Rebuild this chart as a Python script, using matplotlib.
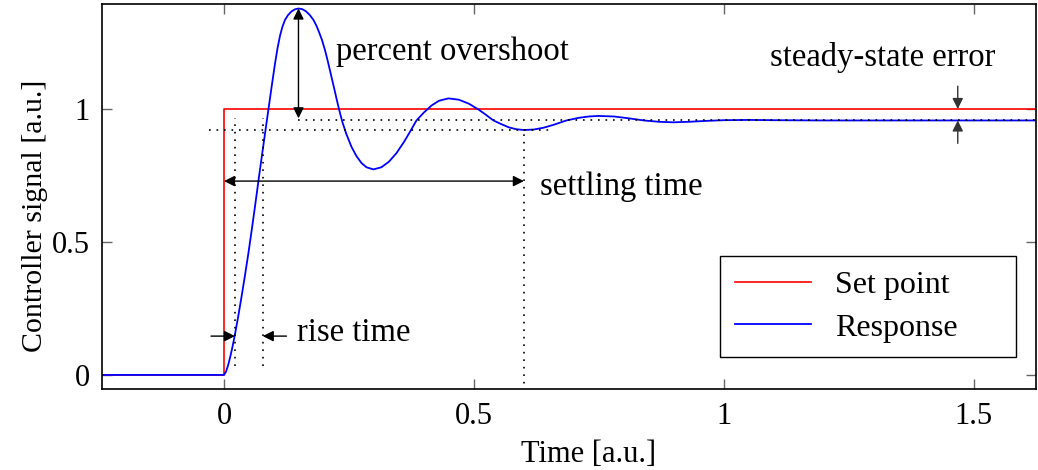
import numpy as np
import matplotlib
matplotlib.use("Agg")
import matplotlib.pyplot as plt

# values
time = [-0.25, 0.0, 0.004, 0.008, 0.012, 0.016, 0.021, 0.028, 0.035, 0.042,
        0.049, 0.056, 0.063, 0.070, 0.077, 0.083, 0.089, 0.095, 0.102, 0.107,
        0.112, 0.117, 0.122, 0.128, 0.135, 0.142, 0.149, 0.156, 0.163, 0.171,
        0.179, 0.185, 0.190, 0.196, 0.202, 0.207, 0.212, 0.217, 0.222, 0.226,
        0.230, 0.237, 0.245, 0.255, 0.265, 0.275, 0.285, 0.299, 0.315, 0.330,
        0.345, 0.360, 0.372, 0.385, 0.400, 0.415, 0.430, 0.449, 0.470, 0.490,
        0.510, 0.525, 0.539, 0.555, 0.570, 0.585, 0.600, 0.620, 0.640, 0.660,
        0.685, 0.710, 0.730, 0.749, 0.780, 0.810, 0.840, 0.870, 0.899, 0.930,
        0.960, 1.000, 1.050, 1.100, 1.200, 1.650]
response = [0.0, 0.0, 0.012, 0.035, 0.064, 0.097, 0.143, 0.215, 0.293, 0.375,
            0.460, 0.552, 0.647, 0.745, 0.840, 0.920, 1.000, 1.080, 1.170, 1.228,
            1.275, 1.310, 1.335, 1.353, 1.367, 1.375, 1.378, 1.376, 1.369, 1.355,
            1.335, 1.313, 1.290, 1.260, 1.222, 1.185, 1.145, 1.105, 1.065, 1.032,
            1.000, 0.950, 0.905, 0.858, 0.823, 0.797, 0.781, 0.773, 0.781, 0.802,
            0.834, 0.876, 0.914, 0.957, 0.987, 1.013, 1.031, 1.040, 1.035, 1.020,
            0.997, 0.977, 0.957, 0.943, 0.931, 0.924, 0.921, 0.923, 0.930, 0.941,
            0.957, 0.967, 0.972, 0.974, 0.972, 0.965, 0.957, 0.952, 0.950, 0.952,
            0.955, 0.958, 0.959, 0.958, 0.957, 0.957]
setpoint_time = [-0.25, 0.0, 0.0, 1.65]
setpoint = [0.0, 0.0, 1.0, 1.0]

# annotation values
peak_time = 0.149
peak_value = 1.378
steady_value = 0.957
band_value = 0.921
rise_start = 0.022
rise_end = 0.0775
settle_time = 0.6
error_time = 1.468

plt.rcParams["font.family"] = ["Liberation Serif", "DejaVu Serif"]
plt.rcParams["font.size"] = 22

fig = plt.figure(figsize=(10.38, 4.70), dpi=100)
ax = fig.add_axes([0.0983, 0.1723, 0.9, 0.8192])

ax.plot(setpoint_time, setpoint, color="#ff0000", lw=1.2, label="Set point")
ax.plot(time, response, color="#0000ff", lw=1.3, label="Response")

dot = dict(color="black", lw=1.2, linestyle=(0, (1, 3.5)))
ax.plot([peak_time, 1.65], [steady_value, steady_value], **dot)
ax.plot([-0.03, 0.66], [band_value, band_value], **dot)
ax.plot([rise_start, rise_start], [0.035, 0.968], **dot)
ax.plot([rise_end, rise_end], [0.035, 0.968], **dot)
ax.plot([settle_time, settle_time], [-0.06, band_value], **dot)

arr1 = dict(arrowstyle="<|-|>", color="black", lw=1.0, mutation_scale=16,
            shrinkA=0, shrinkB=0)
arr2 = dict(arrowstyle="-|>", color="black", lw=1.0, mutation_scale=16,
            shrinkA=0, shrinkB=0)
ax.annotate("", xy=(peak_time, peak_value), xytext=(peak_time, 0.965),
            arrowprops=arr1)
ax.annotate("", xy=(0.0, 0.729), xytext=(settle_time, 0.729), arrowprops=arr1)
ax.annotate("", xy=(rise_start, 0.146), xytext=(-0.026, 0.146), arrowprops=arr2)
ax.annotate("", xy=(rise_end, 0.146), xytext=(0.125, 0.146), arrowprops=arr2)
ax.annotate("", xy=(error_time, 1.0), xytext=(error_time, 1.086),
            arrowprops=dict(arr2, color="#333333"))
ax.annotate("", xy=(error_time, steady_value), xytext=(error_time, 0.871),
            arrowprops=dict(arr2, color="#333333"))

note = 23.5
ax.text(0.224, 1.214, "percent overshoot", va="center", ha="left", fontsize=note)
ax.text(0.632, 0.707, "settling time", va="center", ha="left", fontsize=note)
ax.text(0.146, 0.158, "rise time", va="center", ha="left", fontsize=note)
ax.text(1.318, 1.192, "steady-state error", va="center", ha="center",
        fontsize=note)

ax.set_xlim(-0.244, 1.625)
ax.set_ylim(-0.053, 1.395)
ax.set_xticks([0, 0.5, 1, 1.5])
ax.set_xticklabels(["0", "0.5", "1", "1.5"])
ax.set_yticks([0, 0.5, 1])
ax.set_yticklabels(["0", "0.5", "1"])
ax.tick_params(direction="in", length=7, width=1, color="#666666", pad=9,
               top=True, right=True)
for s in ax.spines.values():
    s.set_linewidth(1.2)

ax.set_xlabel("Time [a.u.]")
ax.set_ylabel("Controller signal [a.u.]", fontsize=21.5)
ax.xaxis.set_label_coords(0.521, -0.132)
ax.yaxis.set_label_coords(-0.058, 0.449)

leg = ax.legend(loc="lower left", bbox_to_anchor=(0.6617, 0.0831, 0.317, 0.265),
                mode="expand", fancybox=False, edgecolor="black", framealpha=1,
                fontsize=23, handlelength=2.4, handletextpad=0.75,
                borderpad=0.45, labelspacing=0.42, borderaxespad=0)
leg.get_frame().set_linewidth(1.0)

fig.savefig("out.png", dpi=100)
